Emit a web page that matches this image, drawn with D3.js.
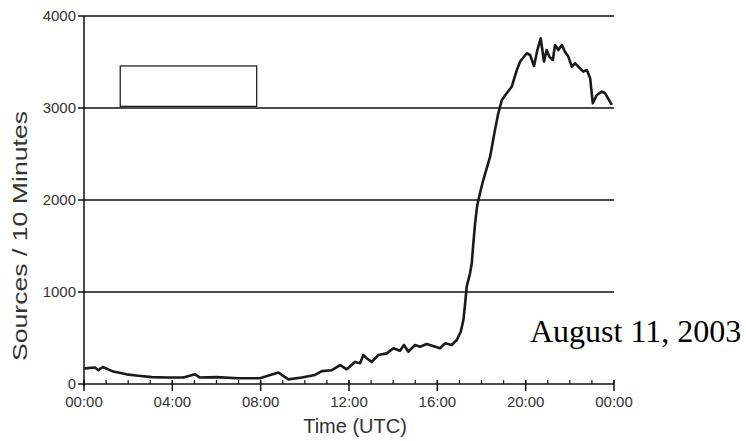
<!DOCTYPE html>
<html lang="en">
<head>
  <meta charset="UTF-8">
  <title>Sources / 10 Minutes - August 11, 2003</title>
  <script src="https://d3js.org/d3.v7.min.js"></script>
  <style>
    body {
      margin: 0;
      background-color: #fff;
    }
    svg text {
      font-family: Arial, "Liberation Sans", sans-serif;
    }
    .tick-label {
      font-size: 15px;
      fill: #333;
    }
    .axis-title {
      font-size: 20px;
      fill: #333;
    }
    .grid {
      stroke: #111;
      stroke-width: 1.5px;
    }
  </style>
</head>
<body>
  <svg width="746" height="441"></svg>
  <script>
    // hours since 00:00 UTC and sources per 10 minutes
    const hours = [
      0, 0.05, 0.5, 0.65, 0.85, 1.33, 1.93, 2.46, 3.07, 3.75, 4.5, 5.03, 5.25, 6.0, 6.97, 7.97,
      8.8, 9.25, 9.86, 10.46, 10.77, 11.22, 11.6, 11.9, 12.27, 12.5, 12.65, 12.8, 13.03, 13.33,
      13.71, 14.01, 14.31, 14.49, 14.69, 14.99, 15.22, 15.52, 16.12, 16.35, 16.65, 16.88, 17.06,
      17.18, 17.26, 17.33, 17.48, 17.56, 17.63, 17.71, 17.81, 17.93, 18.08, 18.39, 18.61, 18.76,
      18.92, 19.14, 19.37, 19.6, 19.75, 20.05, 20.2, 20.38, 20.53, 20.68, 20.83, 20.95, 21.07,
      21.23, 21.33, 21.48, 21.64, 21.78, 21.93, 22.09, 22.24, 22.46, 22.61, 22.77, 22.92, 23.04,
      23.22, 23.45, 23.6, 23.9
    ];
    const sources = [
      165, 170, 180, 150, 185, 135, 105, 90, 75, 70, 70, 105, 70, 75, 62, 62,
      125, 50, 70, 98, 140, 150, 205, 160, 240, 225, 315, 280, 240, 315,
      333, 388, 362, 424, 351, 424, 405, 435, 388, 442, 424, 478, 568,
      695, 877, 1058, 1203, 1312, 1529, 1746, 1946, 2073, 2217, 2471, 2761, 2942,
      3087, 3160, 3232, 3413, 3505, 3595, 3576, 3457, 3630, 3758, 3505, 3630, 3559,
      3522, 3685, 3630, 3685, 3612, 3559, 3450, 3486, 3432, 3395, 3413, 3323, 3051,
      3141, 3178, 3160, 3033
    ];

    const yTicks = [0, 1000, 2000, 3000, 4000];
    const xMajor = [0, 4, 8, 12, 16, 20, 24];
    const xLabels = ["00:00", "04:00", "08:00", "12:00", "16:00", "20:00", "00:00"];
    const dateLabel = "August 11, 2003";

    const svg = d3.select("svg");
    const margin = { top: 16, right: 132, bottom: 57, left: 84 };
    const width = 746 - margin.left - margin.right;
    const height = 441 - margin.top - margin.bottom;

    const x = d3.scaleLinear().domain([0, 24]).range([0, width]);
    const y = d3.scaleLinear().domain([0, 4000]).range([height, 0]);

    const g = svg.append("g")
      .attr("transform", `translate(${margin.left},${margin.top})`);

    // horizontal grid lines
    g.selectAll(".grid")
      .data(yTicks.filter(d => d > 0))
      .enter()
      .append("line")
      .attr("class", "grid")
      .attr("x1", 0)
      .attr("x2", width)
      .attr("y1", d => y(d))
      .attr("y2", d => y(d));

    // empty legend box left over in the original figure
    g.append("rect")
      .attr("x", x(1.64))
      .attr("y", y(3457))
      .attr("width", x(7.82) - x(1.64))
      .attr("height", y(3018) - y(3457))
      .attr("fill", "#fff")
      .attr("stroke", "#111")
      .attr("stroke-width", 1.2);

    // y axis
    g.append("line")
      .attr("x1", 0).attr("x2", 0)
      .attr("y1", 0).attr("y2", height + 2)
      .attr("stroke", "#111").attr("stroke-width", 1.5);
    g.selectAll(".ytick")
      .data(yTicks)
      .enter()
      .append("line")
      .attr("x1", -6).attr("x2", 0)
      .attr("y1", d => y(d)).attr("y2", d => y(d))
      .attr("stroke", "#111").attr("stroke-width", 1.5);
    g.selectAll(".ylabel")
      .data(yTicks)
      .enter()
      .append("text")
      .attr("class", "tick-label")
      .attr("x", -8)
      .attr("y", d => y(d))
      .attr("dy", "0.35em")
      .attr("text-anchor", "end")
      .text(d => d);

    // x axis with hourly minor ticks
    g.append("line")
      .attr("x1", 0).attr("x2", width)
      .attr("y1", height).attr("y2", height)
      .attr("stroke", "#111").attr("stroke-width", 1.5);
    g.selectAll(".xminor")
      .data(d3.range(0, 25))
      .enter()
      .append("line")
      .attr("x1", d => x(d)).attr("x2", d => x(d))
      .attr("y1", height - 4).attr("y2", height)
      .attr("stroke", "#111").attr("stroke-width", 1.2);
    g.selectAll(".xmajor")
      .data(xMajor)
      .enter()
      .append("line")
      .attr("x1", d => x(d)).attr("x2", d => x(d))
      .attr("y1", height - 4).attr("y2", height + 7)
      .attr("stroke", "#111").attr("stroke-width", 1.5);
    g.selectAll(".xlabel")
      .data(xMajor)
      .enter()
      .append("text")
      .attr("class", "tick-label")
      .attr("x", d => x(d))
      .attr("y", height + 23)
      .attr("text-anchor", "middle")
      .text((d, i) => xLabels[i]);

    // the series
    const line = d3.line()
      .x((d, i) => x(hours[i]))
      .y(d => y(d));
    g.append("path")
      .datum(sources)
      .attr("fill", "none")
      .attr("stroke", "#1a1a1a")
      .attr("stroke-width", 2.6)
      .attr("stroke-linejoin", "round")
      .attr("d", line);

    // axis titles
    svg.append("text")
      .attr("class", "axis-title")
      .attr("x", 355)
      .attr("y", 433)
      .attr("text-anchor", "middle")
      .text("Time (UTC)");
    svg.append("text")
      .attr("class", "axis-title")
      .attr("transform", "translate(27,236) rotate(-90)")
      .attr("text-anchor", "middle")
      .attr("textLength", 250)
      .attr("lengthAdjust", "spacingAndGlyphs")
      .text("Sources / 10 Minutes");

    // date note
    svg.append("text")
      .attr("x", 530)
      .attr("y", 342)
      .style("font-family", "'Times New Roman', 'Liberation Serif', serif")
      .style("font-size", "32px")
      .attr("fill", "#000")
      .text(dateLabel);
  </script>
</body>
</html>
